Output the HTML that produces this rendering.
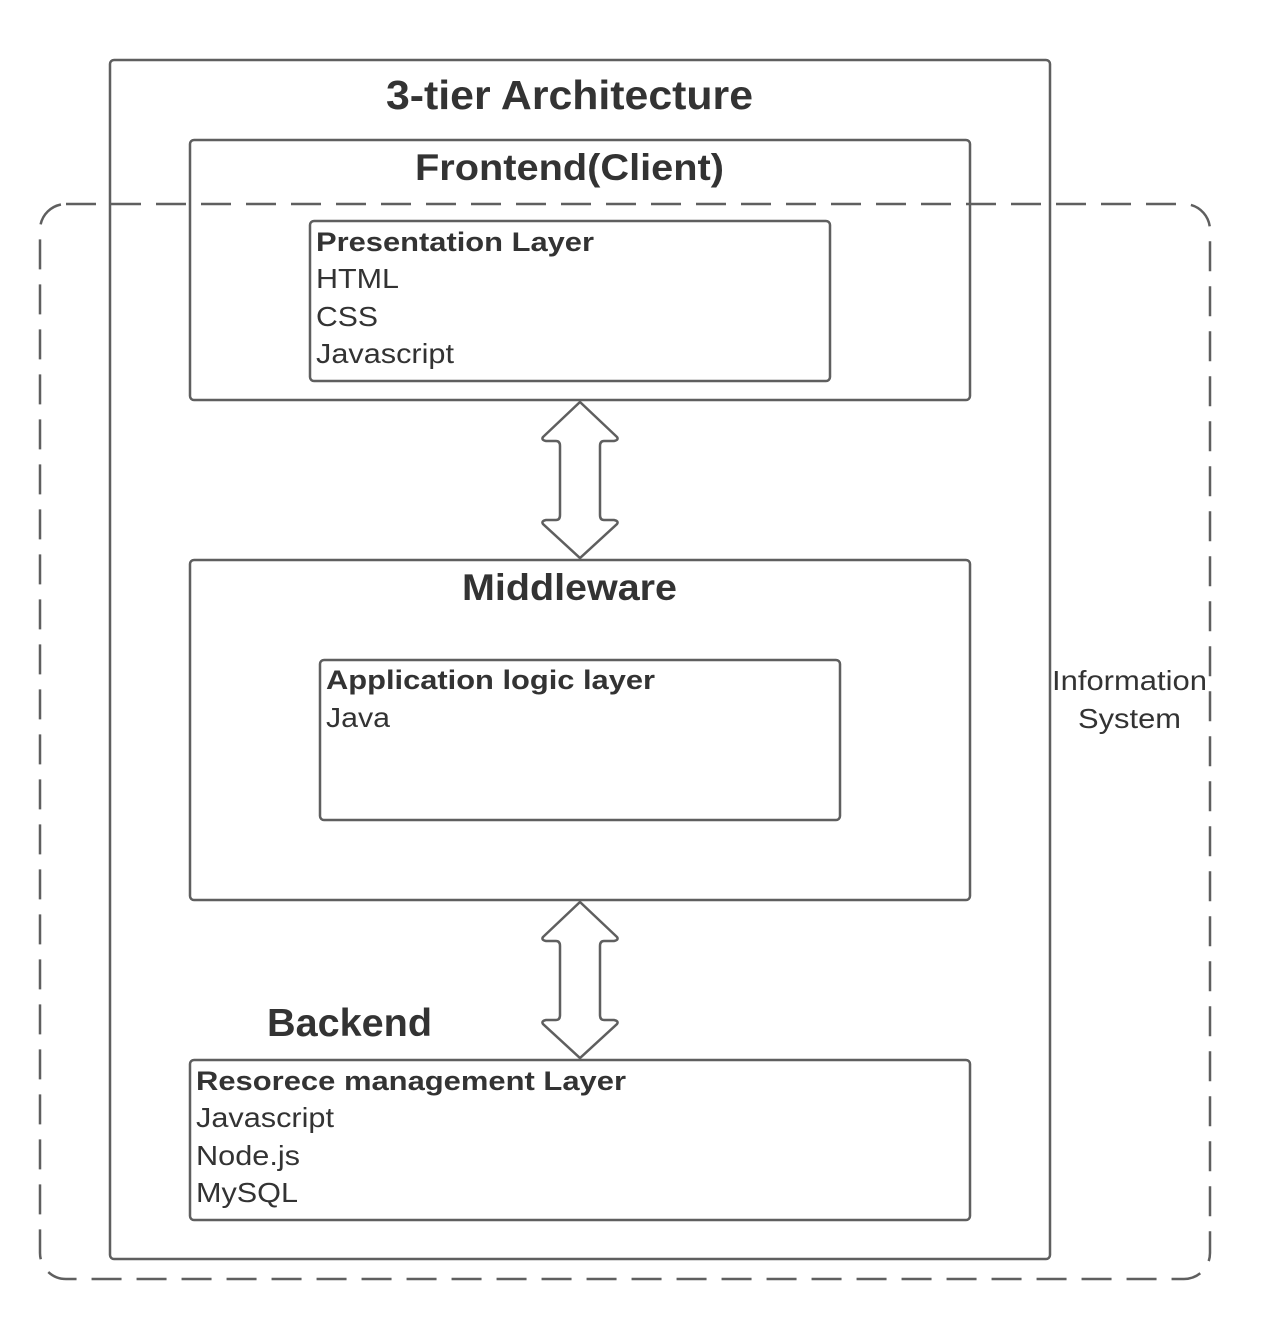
<!DOCTYPE html>
<html><head><style>body{margin:0;background:#fff}svg{display:block}text{font-family:"Liberation Sans",sans-serif;fill:#333}</style></head>
<body>
<svg width="1270" height="1320" viewBox="0 0 1270 1320" xmlns="http://www.w3.org/2000/svg">
<g fill="none" stroke="#5f5f5f" stroke-width="2.5">
<rect x="110" y="60" width="940" height="1199" rx="4"/>
<rect x="190" y="140" width="780" height="260" rx="4"/>
<rect x="310" y="221" width="520" height="160" rx="4"/>
<rect x="190" y="560" width="780" height="340" rx="4"/>
<rect x="320" y="660" width="520" height="160" rx="4"/>
<rect x="190" y="1060" width="780" height="160" rx="4"/>
<rect x="40" y="204" width="1170" height="1075" rx="26" stroke-dasharray="30 15"/>
<path d="M580 402 L617 437 Q619 440 614 441 L604 441 Q600 441 600 446 L600 515 Q600 520 604 520 L614 520 Q619 521 617 524 L580 558 L543 524 Q541 521 546 520 L556 520 Q560 520 560 515 L560 446 Q560 441 556 441 L546 441 Q541 440 543 437 Z" fill="#fff"/>
<path d="M580 902 L617 937 Q619 940 614 941 L604 941 Q600 941 600 946 L600 1015 Q600 1020 604 1020 L614 1020 Q619 1021 617 1024 L580 1058 L543 1024 Q541 1021 546 1020 L556 1020 Q560 1020 560 1015 L560 946 Q560 941 556 941 L546 941 Q541 940 543 937 Z" fill="#fff"/>
</g>
<rect x="1052" y="662" width="156" height="76" fill="#fff"/>
<text x="386" y="109" font-size="41" font-weight="bold" textLength="367" lengthAdjust="spacingAndGlyphs" fill="#222">3-tier Architecture</text>
<text x="415" y="180" font-size="37" font-weight="bold" textLength="309" lengthAdjust="spacingAndGlyphs">Frontend(Client)</text>
<text x="316" y="251" font-size="27" font-weight="bold" textLength="278" lengthAdjust="spacingAndGlyphs">Presentation Layer</text>
<text x="316" y="288" font-size="28" textLength="83" lengthAdjust="spacingAndGlyphs">HTML</text>
<text x="316" y="326" font-size="28" textLength="62" lengthAdjust="spacingAndGlyphs">CSS</text>
<text x="316" y="363" font-size="28" textLength="138" lengthAdjust="spacingAndGlyphs">Javascript</text>
<text x="462" y="600" font-size="37" font-weight="bold" textLength="215" lengthAdjust="spacingAndGlyphs">Middleware</text>
<text x="326" y="689" font-size="27" font-weight="bold" textLength="329" lengthAdjust="spacingAndGlyphs">Application logic layer</text>
<text x="326" y="727" font-size="28" textLength="64" lengthAdjust="spacingAndGlyphs">Java</text>
<text x="267" y="1036" font-size="39" font-weight="bold" textLength="165" lengthAdjust="spacingAndGlyphs">Backend</text>
<text x="196" y="1090" font-size="27" font-weight="bold" textLength="430" lengthAdjust="spacingAndGlyphs">Resorece management Layer</text>
<text x="196" y="1127" font-size="28" textLength="138" lengthAdjust="spacingAndGlyphs">Javascript</text>
<text x="196" y="1165" font-size="28" textLength="104" lengthAdjust="spacingAndGlyphs">Node.js</text>
<text x="196" y="1202" font-size="28" textLength="102" lengthAdjust="spacingAndGlyphs">MySQL</text>
<text x="1052" y="690" font-size="28" textLength="155" lengthAdjust="spacingAndGlyphs">Information</text>
<text x="1078" y="728" font-size="28" textLength="103" lengthAdjust="spacingAndGlyphs">System</text>
</svg>
</body></html>
